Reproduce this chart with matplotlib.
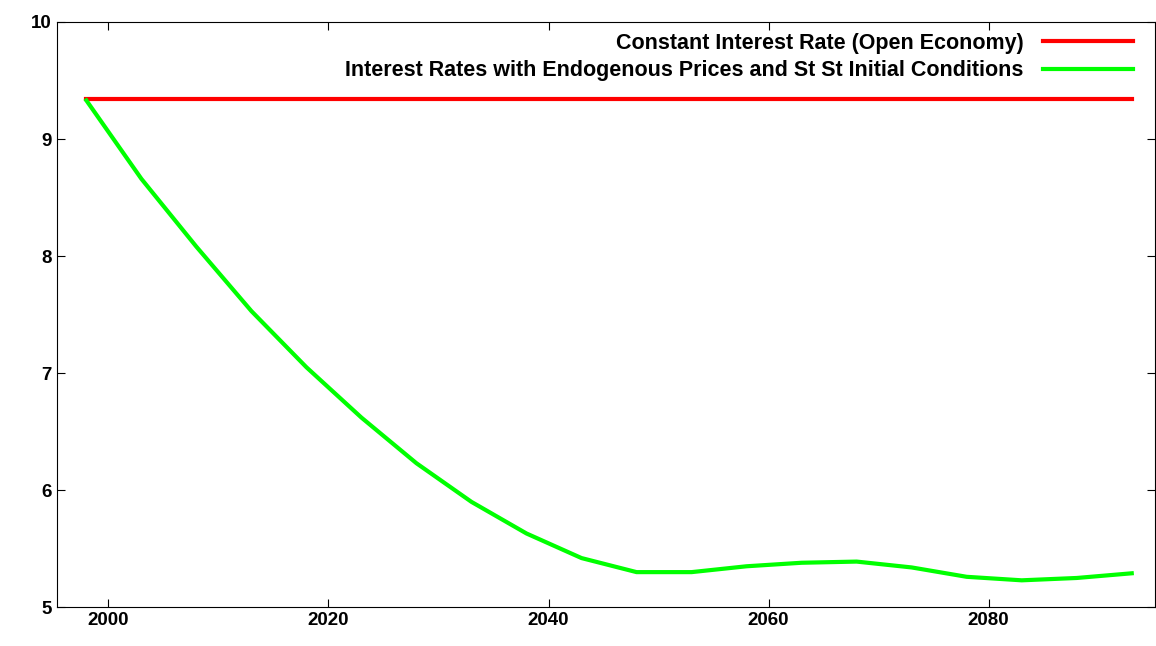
import matplotlib
matplotlib.use("Agg")
import matplotlib.pyplot as plt

years = [1998, 2003, 2008, 2013, 2018, 2023, 2028, 2033, 2038, 2043,
         2048, 2053, 2058, 2063, 2068, 2073, 2078, 2083, 2088, 2093]
endog_rate = [9.33, 8.66, 8.08, 7.53, 7.05, 6.62, 6.23, 5.90, 5.63, 5.42,
              5.30, 5.30, 5.35, 5.38, 5.39, 5.34, 5.26, 5.23, 5.25, 5.29]
const_rate = [9.34] * len(years)

plt.rcParams['font.family'] = ['Liberation Sans', 'DejaVu Sans']
plt.rcParams['font.weight'] = 'bold'

fig = plt.figure(figsize=(11.56, 6.46), dpi=100)
ax = fig.add_axes([0.049, 0.060, 0.950, 0.906])
ax.plot(years, const_rate, color='#ff0000', lw=3, label='Constant Interest Rate (Open Economy)')
ax.plot(years, endog_rate, color='#00ff00', lw=3,
        label='Interest Rates with Endogenous Prices and St St Initial Conditions')

ax.set_xlim(1995.3, 2095.1)
ax.set_ylim(5, 10)
ax.set_xticks([2000, 2020, 2040, 2060, 2080])
ax.set_yticks([5, 6, 7, 8, 9, 10])
ax.tick_params(direction='in', labelsize=13.5, length=6, top=True, right=True)
for lab in ax.get_xticklabels() + ax.get_yticklabels():
    lab.set_fontweight('bold')

leg = ax.legend(loc='upper right', markerfirst=False, frameon=False,
                fontsize=15.5, handlelength=4.2, handletextpad=0.9,
                borderaxespad=0.1, labelspacing=0.3, bbox_to_anchor=(0.99, 1.0))
for t in leg.get_texts():
    t.set_fontweight('bold')

fig.savefig('out.png')
